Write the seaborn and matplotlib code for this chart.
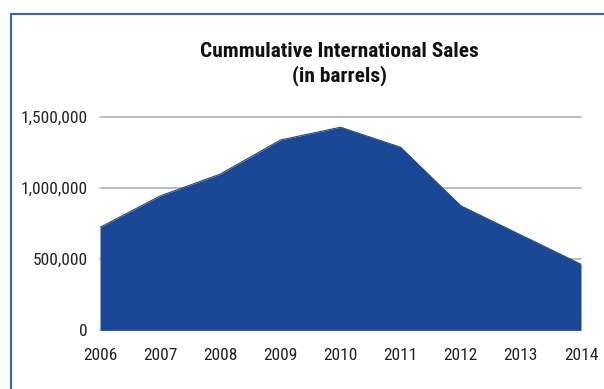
import matplotlib
matplotlib.use("Agg")
import matplotlib.pyplot as plt
from matplotlib.lines import Line2D
from matplotlib.ticker import FuncFormatter
import seaborn as sns

years = [2006, 2007, 2008, 2009, 2010, 2011, 2012, 2013, 2014]
sales = [725000, 946000, 1100000, 1340000, 1430000, 1289000, 877000, 671000, 465000]
y_ticks = [0, 500000, 1000000, 1500000]

sns.set_style("white")
plt.rcParams["font.family"] = ["Roboto Condensed", "PT Sans Narrow", "Archivo Narrow", "DejaVu Sans"]

fill_color = "#1b4896"
grid_color = "#aaaaaa"

fig = plt.figure(figsize=(6.04, 3.89), dpi=100)
ax = fig.add_axes([100 / 604, 1 - 330.3 / 389, 481 / 604, 213 / 389])

for t in y_ticks:
    ax.axhline(t, color=grid_color, linewidth=1.1, zorder=1, clip_on=False)

sns.lineplot(x=years, y=sales, ax=ax, color=fill_color, linewidth=0.8, zorder=3)
ax.fill_between(years, sales, 0, color=fill_color, linewidth=0, zorder=2)

ax.set_xlim(years[0], years[-1])
ax.set_ylim(0, 1500000)
ax.set_xticks(years)
ax.set_yticks(y_ticks)
ax.yaxis.set_major_formatter(FuncFormatter(lambda v, p: f"{int(v):,}"))
ax.tick_params(axis="both", length=0, labelsize=12.5, colors="#222222")
ax.tick_params(axis="y", pad=9)
ax.tick_params(axis="x", pad=13)
for sp in ax.spines.values():
    sp.set_visible(False)

fig.text(339 / 604, 1 - 64 / 389, "Cummulative International Sales\n(in barrels)",
         ha="center", va="center", fontsize=15.4, fontweight="bold",
         linespacing=1.25, color="#111111")

border = "#3563b5"
fig.add_artist(Line2D([11 / 604, 1], [1 - 14 / 389, 1 - 14 / 389], color=border, linewidth=1.5,
                      transform=fig.transFigure))
fig.add_artist(Line2D([11 / 604, 11 / 604], [0, 1 - 14 / 389], color=border, linewidth=1.5,
                      transform=fig.transFigure))

fig.savefig("out.png", dpi=100)
